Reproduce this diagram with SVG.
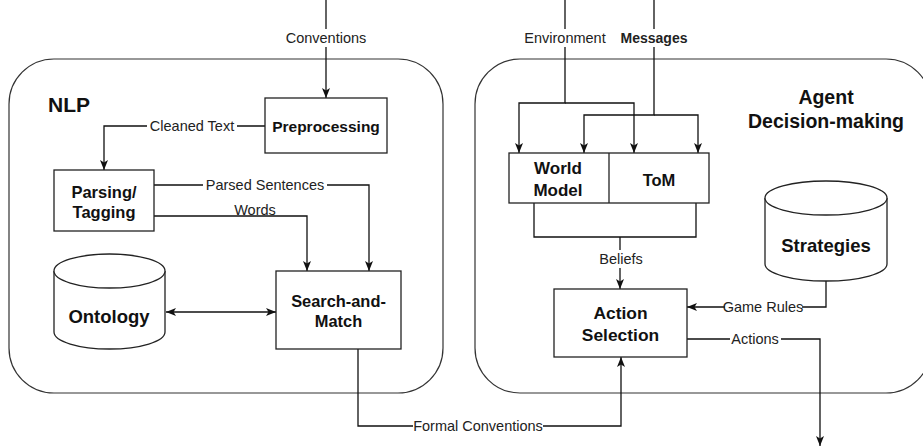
<svg xmlns="http://www.w3.org/2000/svg" width="923" height="448" viewBox="0 0 923 448">
<style>
.cont{fill:#fff;stroke:#333;stroke-width:1.2}
.box{fill:#fff;stroke:#222;stroke-width:1.3}
.edge{fill:none;stroke:#111;stroke-width:1.3}
.nl{font-family:"Liberation Sans",Arial,sans-serif;font-weight:bold;fill:#111;text-anchor:middle;dominant-baseline:central}
.el{font-family:"Liberation Sans",Arial,sans-serif;font-size:14.5px;fill:#222;text-anchor:middle;dominant-baseline:central}
.bg{fill:#fff}
</style>
<defs>
<marker id="arr" viewBox="0 0 10 8" refX="10" refY="4" markerWidth="10" markerHeight="8" markerUnits="userSpaceOnUse" orient="auto-start-reverse">
<path d="M0,0 L10,4 L0,8 L2.5,4 Z" fill="#111"/>
</marker>
</defs>
<rect width="923" height="448" fill="#fff"/>
<g id="nlp-container">
<rect class="cont" x="9" y="59" width="434" height="334" rx="45" ry="45"/>
<text class="nl" x="48" y="112" style="font-size:21px;text-anchor:start;dominant-baseline:alphabetic">NLP</text>
</g>
<g id="agent-container">
<rect class="cont" x="475" y="59" width="456" height="334" rx="45" ry="45"/>
<text class="nl" x="826" y="97" style="font-size:19.5px">Agent</text>
<text class="nl" x="826" y="121" style="font-size:19.5px">Decision-making</text>
</g>
<g id="connectors">
<path class="edge" d="M326,0 V98" marker-end="url(#arr)"/>
<path class="edge" d="M265,126 H104 V170" marker-end="url(#arr)"/>
<path class="edge" d="M154,185 H369 V271" marker-end="url(#arr)"/>
<path class="edge" d="M154,216 H307 V271" marker-end="url(#arr)"/>
<path class="edge" d="M166,312 H276" marker-start="url(#arr)" marker-end="url(#arr)"/>
<path class="edge" d="M358,349 V426 H621 V357" marker-end="url(#arr)"/>
<path class="edge" d="M565,0 V103 H519 V153" marker-end="url(#arr)"/>
<path class="edge" d="M565,103 H634 V153" marker-end="url(#arr)"/>
<path class="edge" d="M654,0 V115 H584 V153" marker-end="url(#arr)"/>
<path class="edge" d="M654,115 H698 V153" marker-end="url(#arr)"/>
<path class="edge" d="M534,203 V237 H696 V203"/>
<path class="edge" d="M620,237 V289" marker-end="url(#arr)"/>
<path class="edge" d="M826,281 V307 H687" marker-end="url(#arr)"/>
<path class="edge" d="M687,339 H820 V446" marker-end="url(#arr)"/>
<rect class="bg" x="282" y="29" width="88" height="18"/>
<text class="el" x="326" y="38">Conventions</text>
<rect class="bg" x="147" y="117" width="90" height="18"/>
<text class="el" x="192" y="126">Cleaned Text</text>
<rect class="bg" x="203" y="176" width="124" height="18"/>
<text class="el" x="265" y="185">Parsed Sentences</text>
<rect class="bg" x="233" y="202" width="44" height="13"/>
<text class="el" x="255" y="210">Words</text>
<rect class="bg" x="413" y="417" width="130" height="18"/>
<text class="el" x="478" y="426">Formal Conventions</text>
<rect class="bg" x="520" y="29" width="90" height="18"/>
<text class="el" x="565" y="38">Environment</text>
<rect class="bg" x="620" y="29" width="70" height="18"/>
<text class="el" x="654" y="38" style="font-weight:bold;font-size:14px">Messages</text>
<rect class="bg" x="596" y="250" width="50" height="18"/>
<text class="el" x="621" y="259">Beliefs</text>
<rect class="bg" x="725" y="298" width="77" height="18"/>
<text class="el" x="763" y="307">Game Rules</text>
<rect class="bg" x="730" y="330" width="51" height="18"/>
<text class="el" x="755" y="339">Actions</text>
</g>
<g id="preprocessing">
<rect class="box" x="265" y="98" width="122" height="55"/>
<text class="nl" x="326" y="126" style="font-size:15.5px">Preprocessing</text>
</g>
<g id="parsing-tagging">
<rect class="box" x="54" y="170" width="100" height="61"/>
<text class="nl" x="104" y="192" style="font-size:16.5px">Parsing/</text>
<text class="nl" x="104" y="212" style="font-size:16.5px">Tagging</text>
</g>
<g id="search-and-match">
<rect class="box" x="276" y="271" width="125" height="78"/>
<text class="nl" x="338.5" y="301" style="font-size:16.4px">Search-and-</text>
<text class="nl" x="338.5" y="321" style="font-size:16.4px">Match</text>
</g>
<g id="ontology">
<path class="box" d="M54,271 A55.5,17 0 0 1 165,271 V332 A55.5,17 0 0 1 54,332 Z"/>
<path class="box" d="M54,271 A55.5,17 0 0 0 165,271" fill="none"/>
<text class="nl" x="109" y="316" style="font-size:18.5px">Ontology</text>
</g>
<g id="world-model-tom">
<rect class="box" x="509" y="153" width="200" height="50"/>
<line class="box" x1="609" y1="153" x2="609" y2="203"/>
<text class="nl" x="558" y="168" style="font-size:17px">World</text>
<text class="nl" x="558" y="190" style="font-size:17px">Model</text>
<text class="nl" x="659" y="180" style="font-size:16.5px">ToM</text>
</g>
<g id="action-selection">
<rect class="box" x="554" y="289" width="133" height="68"/>
<text class="nl" x="620.5" y="313" style="font-size:17.4px">Action</text>
<text class="nl" x="620.5" y="335" style="font-size:17.4px">Selection</text>
</g>
<g id="strategies">
<path class="box" d="M765,198 A61,17 0 0 1 887,198 V264 A61,17 0 0 1 765,264 Z"/>
<path class="box" d="M765,198 A61,17 0 0 0 887,198" fill="none"/>
<text class="nl" x="826" y="245" style="font-size:18.5px">Strategies</text>
</g>
</svg>
